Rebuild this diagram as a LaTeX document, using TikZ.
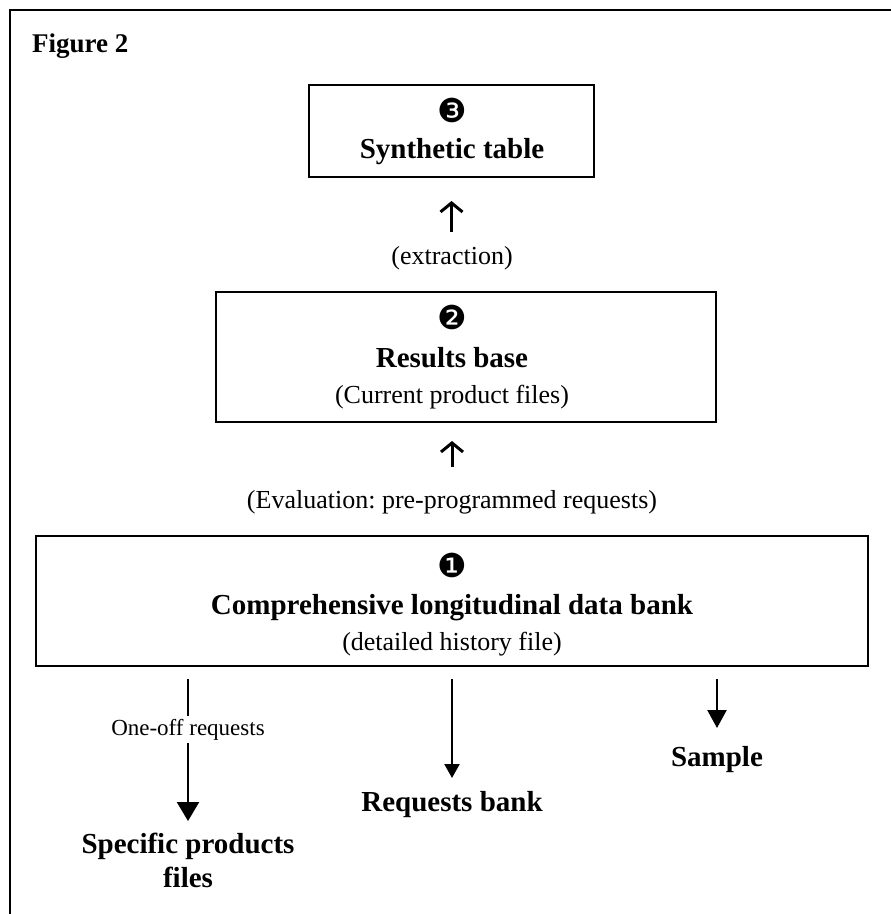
\documentclass[tikz,border=0pt]{standalone}
\usepackage{fontspec}
\setmainfont{Liberation Serif}
\newfontfamily\numfont{DejaVu Sans}
\usetikzlibrary{arrows.meta}
\frenchspacing
\begin{document}
\begin{tikzpicture}[x=1pt,y=-1pt,
  box/.style={draw,line width=2pt,minimum width=#1,inner sep=0pt},
  ttl/.style={font=\fontsize{29}{34}\selectfont\bfseries,anchor=base,inner sep=0pt},
  sub/.style={font=\fontsize{26}{30}\selectfont,anchor=base,inner sep=0pt},
  num/.style={font=\numfont\fontsize{33}{33}\selectfont,anchor=center,inner sep=0pt},
  uparrow/.style={line width=3pt,-{Straight Barb[length=9pt,width=22pt,line width=3pt]}},
  dline/.style={line width=2.4pt},
]
\useasboundingbox (0,0) rectangle (891,914);
% frame
\draw[line width=2pt] (10,914) -- (10,10) -- (891,10);
\node[anchor=base west,inner sep=0pt,font=\fontsize{27}{30}\selectfont\bfseries] (fig) at (32,52) {Figure 2};
% box 3
\node[box=285pt,minimum height=92pt] (box3) at (451.5,131) {};
\node[num] (n3) at (452,110) {❸};
\node[ttl] (t3) at (452,158) {Synthetic table};
% box 2
\node[box=500pt,minimum height=130pt] (box2) at (466,357) {};
\node[num] (n2) at (452,317) {❷};
\node[ttl] (t2) at (452,367) {Results base};
\node[sub] (s2) at (452,403) {(Current product files)};
% box 1
\node[box=832pt,minimum height=130pt] (box1) at (452,601) {};
\node[num] (n1) at (452,565) {❶};
\node[ttl] (t1) at (452,614) {Comprehensive longitudinal data bank};
\node[sub] (s1) at (452,650) {(detailed history file)};
% labels between boxes
\node[sub] (extr) at (452,264) {(extraction)};
\node[sub] (eval) at (452,508) {(Evaluation: pre-programmed requests)};
\draw[uparrow,shorten <=59pt,shorten >=23pt] (box2.north -| box3.south) -- (box3.south);
\draw[uparrow,shorten <=68pt,shorten >=18pt] (box1.north) -- (box1.north |- box2.south);
% outputs
\node[anchor=base,inner sep=0pt,inner ysep=3pt,font=\fontsize{23}{26}\selectfont] (oneoff) at (188,735) {One-off requests};
\node[ttl,align=center,font=\fontsize{29}{34}\selectfont\bfseries] (spec) at (188,887) {Specific products\\files};
\node[ttl] (req) at (452,811) {Requests bank};
\node[ttl] (sample) at (717,766) {Sample};
\draw[dline,shorten <=12pt] (box1.south -| oneoff) -- (oneoff);
\draw[dline,-{Triangle[length=19pt,width=22pt]},shorten >=66pt] (oneoff) -- (oneoff.center |- spec.base);
\draw[dline,-{Triangle[length=14pt,width=15pt]},shorten <=12pt,shorten >=33pt] (box1.south -| req.base) -- (req.base);
\draw[dline,-{Triangle[length=18pt,width=19pt]},shorten <=12pt,shorten >=38pt] (box1.south -| sample.base) -- (sample.base);
\end{tikzpicture}
\end{document}
